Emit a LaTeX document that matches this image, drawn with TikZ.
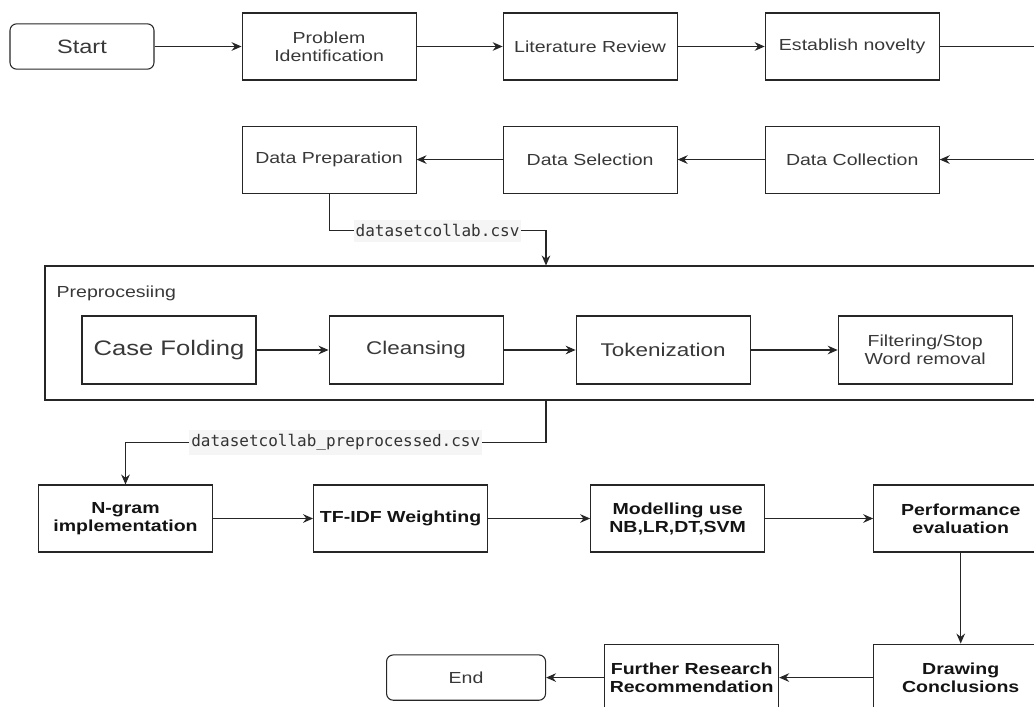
\documentclass[tikz,border=0pt]{standalone}
\usepackage{fontspec}
\setmainfont{Liberation Sans}[FakeStretch=1.22]
\newfontfamily\csvfont{DejaVu Sans Mono}
\usetikzlibrary{positioning,arrows.meta}

\begin{document}
\begin{tikzpicture}[x=0.75pt, y=-0.75pt,
        stepnode/.style={rectangle, draw=black!85, line width=0.8pt, text=black!78, minimum width=130.5pt, minimum height=50.25pt, inner sep=1pt, align=center, font=\fontsize{12}{13.5}\selectfont},
        boldnode/.style={stepnode, text=black!92, font=\fontsize{12}{13.5}\selectfont\bfseries},
        roundnode/.style={stepnode, rounded corners=5pt, minimum height=34pt},
        prenode/.style={rectangle, draw=black!85, line width=0.8pt, minimum width=751.5pt, minimum height=100.5pt},
        csvlabel/.style={fill=black!4, text=black!80, inner xsep=1.5pt, inner ysep=3.5pt, font=\csvfont\fontsize{12}{12}\selectfont},
        arrow/.style={draw=black!85, line width=0.8pt, -{Stealth[length=7.5pt, width=6.5pt, inset=2.5pt]}}]

        \useasboundingbox (0,0) rectangle (1034,706);
        \clip (0,0) rectangle (1034,706);

        \node[roundnode, minimum width=108pt, font=\fontsize{14.5}{16}\selectfont] (1) at (82,46.5) {Start};
        \node[stepnode] (2) [right=65.25pt of 1] {Problem\\Identification};
        \node[stepnode] (3) [right=64.5pt of 2] {Literature Review};
        \node[stepnode] (4) [right=65.25pt of 3] {Establish novelty};

        \node[stepnode] (5) [below=33.75pt of 2] {Data Preparation};
        \node[stepnode] (6) [right=64.5pt of 5] {Data Selection};
        \node[stepnode] (7) [right=65.25pt of 6] {Data Collection};

        \node[prenode] (8) at (546,333) {};
        \node[anchor=west, text=black!78, font=\fontsize{12}{13.5}\selectfont] (9) at (52,293) {Preprocesiing};
        \node[stepnode, minimum height=51pt, font=\fontsize{15.75}{17}\selectfont] (10) at (169,350) {Case Folding};
        \node[stepnode, minimum height=51pt, font=\fontsize{13.8}{15}\selectfont] (11) [right=54pt of 10] {Cleansing};
        \node[stepnode, minimum height=51pt, font=\fontsize{13.8}{15}\selectfont] (12) [right=54pt of 11] {Tokenization};
        \node[stepnode, minimum height=51pt] (13) [right=65.25pt of 12] {Filtering/Stop\\Word removal};

        \node[boldnode] (14) at (125.5,518.5) {N-gram\\implementation};
        \node[boldnode] (15) [right=75pt of 14] {TF-IDF Weighting};
        \node[boldnode] (16) [right=76.5pt of 15] {Modelling use\\NB,LR,DT,SVM};
        \node[boldnode] (17) [right=81pt of 16] {Performance\\evaluation};

        \node[boldnode] (18) [below=68.25pt of 17] {Drawing\\Conclusions};
        \node[boldnode] (19) [left=70.5pt of 18] {Further Research\\Recommendation};
        \node[roundnode, minimum width=119.25pt] (20) [left=43.5pt of 19] {End};

        \draw[arrow] (1) -- (2);
        \draw[arrow] (2) -- (3);
        \draw[arrow] (3) -- (4);
        \draw[arrow] (4.east) -- ++(90pt,0) |- (7.east);
        \draw[arrow] (7) -- (6);
        \draw[arrow] (6) -- (5);
        \draw[arrow] (5.south) -- ++(0,37) -| node[pos=0.25, csvlabel] {datasetcollab.csv} (8.north);
        \draw[arrow] (10) -- (11);
        \draw[arrow] (11) -- (12);
        \draw[arrow] (12) -- (13);
        \draw[arrow] (8.south) -- ++(0,42) -| node[pos=0.25, csvlabel] {datasetcollab\_preprocessed.csv} (14.north);
        \draw[arrow] (14) -- (15);
        \draw[arrow] (15) -- (16);
        \draw[arrow] (16) -- (17);
        \draw[arrow] (17) -- (18);
        \draw[arrow] (18) -- (19);
        \draw[arrow] (19) -- (20);

\end{tikzpicture}
\end{document}
